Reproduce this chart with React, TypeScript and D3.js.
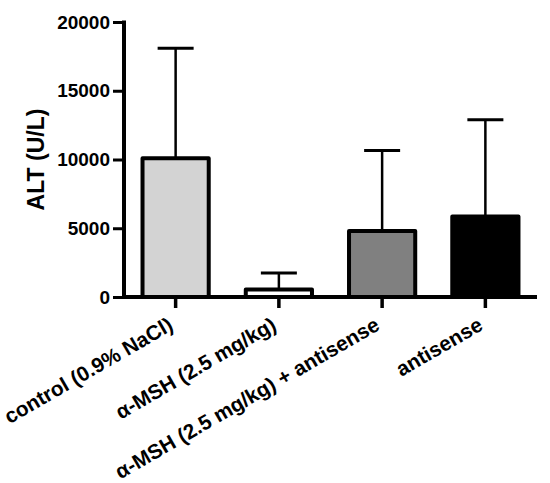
import * as d3 from "d3";
import React, { useEffect, useRef } from "react";

const groups = [
  "control (0.9% NaCl)",
  "α-MSH (2.5 mg/kg)",
  "α-MSH (2.5 mg/kg) + antisense",
  "antisense",
];
const means = [10100, 550, 4800, 5850];
const errors = [8000, 1200, 5850, 7050]; // SD above mean
const fills = ["#d3d3d3", "#ffffff", "#808080", "#000000"];
const yTicks = [0, 5000, 10000, 15000, 20000];

const FONT = "'Liberation Sans', Arial, sans-serif";

export const AltChart: React.FC = () => {
  const svgRef = useRef<SVGSVGElement | null>(null);

  useEffect(() => {
    if (!svgRef.current) return;

    const marginLeft = 124;
    const marginRight = 13;
    const marginTop = 22;
    const axisY = 297;

    const width = 550;

    const x = d3
      .scaleBand<string>()
      .domain(groups)
      .range([marginLeft, width - marginRight])
      .paddingInner(0.32)
      .paddingOuter(0.16);

    const y = d3.scaleLinear().domain([0, 20000]).range([axisY, marginTop]);

    const svg = d3.select(svgRef.current);
    svg.selectAll("*").remove();

    const data = groups.map((g, i) => ({ g, mean: means[i], err: errors[i], fill: fills[i] }));

    // error bars (drawn first, bars cover the lower part)
    const eb = svg.append("g").attr("stroke", "#000");
    eb.selectAll("line.v")
      .data(data)
      .join("line")
      .attr("class", "v")
      .attr("x1", (d) => x(d.g)! + x.bandwidth() / 2)
      .attr("x2", (d) => x(d.g)! + x.bandwidth() / 2)
      .attr("y1", (d) => y(d.mean))
      .attr("y2", (d) => y(d.mean + d.err))
      .attr("stroke-width", 2.5);
    eb.selectAll("line.cap")
      .data(data)
      .join("line")
      .attr("class", "cap")
      .attr("x1", (d) => x(d.g)! + x.bandwidth() / 2 - 18)
      .attr("x2", (d) => x(d.g)! + x.bandwidth() / 2 + 18)
      .attr("y1", (d) => y(d.mean + d.err))
      .attr("y2", (d) => y(d.mean + d.err))
      .attr("stroke-width", 3);

    // bars
    svg
      .append("g")
      .selectAll("rect")
      .data(data)
      .join("rect")
      .attr("x", (d) => x(d.g)! + 2)
      .attr("y", (d) => y(d.mean))
      .attr("width", x.bandwidth() - 4)
      .attr("height", (d) => axisY - y(d.mean))
      .attr("fill", (d) => d.fill)
      .attr("stroke", "#000")
      .attr("stroke-width", 4)
      .attr("stroke-linejoin", "round");

    // y axis
    const yAxis = svg
      .append("g")
      .attr("transform", `translate(${marginLeft},0)`)
      .call(d3.axisLeft(y).tickValues(yTicks).tickSize(11).tickPadding(3).tickFormat(d3.format("d")));
    yAxis.select(".domain").remove();
    yAxis.selectAll(".tick line").attr("stroke-width", 3);
    yAxis
      .selectAll(".tick text")
      .attr("font-family", FONT)
      .attr("font-weight", "bold")
      .attr("font-size", 19)
      .attr("fill", "#000");
    svg
      .append("line")
      .attr("x1", marginLeft)
      .attr("x2", marginLeft)
      .attr("y1", marginTop - 1.5)
      .attr("y2", axisY + 2)
      .attr("stroke", "#000")
      .attr("stroke-width", 4);

    // x axis
    const xAxis = svg
      .append("g")
      .attr("transform", `translate(0,${axisY})`)
      .call(d3.axisBottom(x).tickSize(11).tickFormat(() => ""));
    xAxis.select(".domain").remove();
    xAxis.selectAll(".tick line").attr("stroke-width", 3.5);
    svg
      .append("line")
      .attr("x1", marginLeft - 2)
      .attr("x2", width - marginRight)
      .attr("y1", axisY)
      .attr("y2", axisY)
      .attr("stroke", "#000")
      .attr("stroke-width", 4);

    // x labels, rotated
    svg
      .append("g")
      .selectAll("text")
      .data(groups)
      .join("text")
      .attr("transform", (d) => `translate(${x(d)! + x.bandwidth() / 2 - 1},${axisY + 32}) rotate(-30)`)
      .attr("text-anchor", "end")
      .attr("font-family", FONT)
      .attr("font-weight", "bold")
      .attr("font-size", 20.8)
      .text((d) => d);

    // y title
    svg
      .append("text")
      .attr("transform", `translate(44,${(marginTop + axisY) / 2}) rotate(-90)`)
      .attr("text-anchor", "middle")
      .attr("font-family", FONT)
      .attr("font-weight", "bold")
      .attr("font-size", 23)
      .text("ALT (U/L)");
  }, []);

  return (
    <svg
      ref={svgRef}
      width="550"
      height="483"
      style={{ position: "absolute", left: 0, top: 0, background: "#fff" }}
    />
  );
};

export default AltChart;
